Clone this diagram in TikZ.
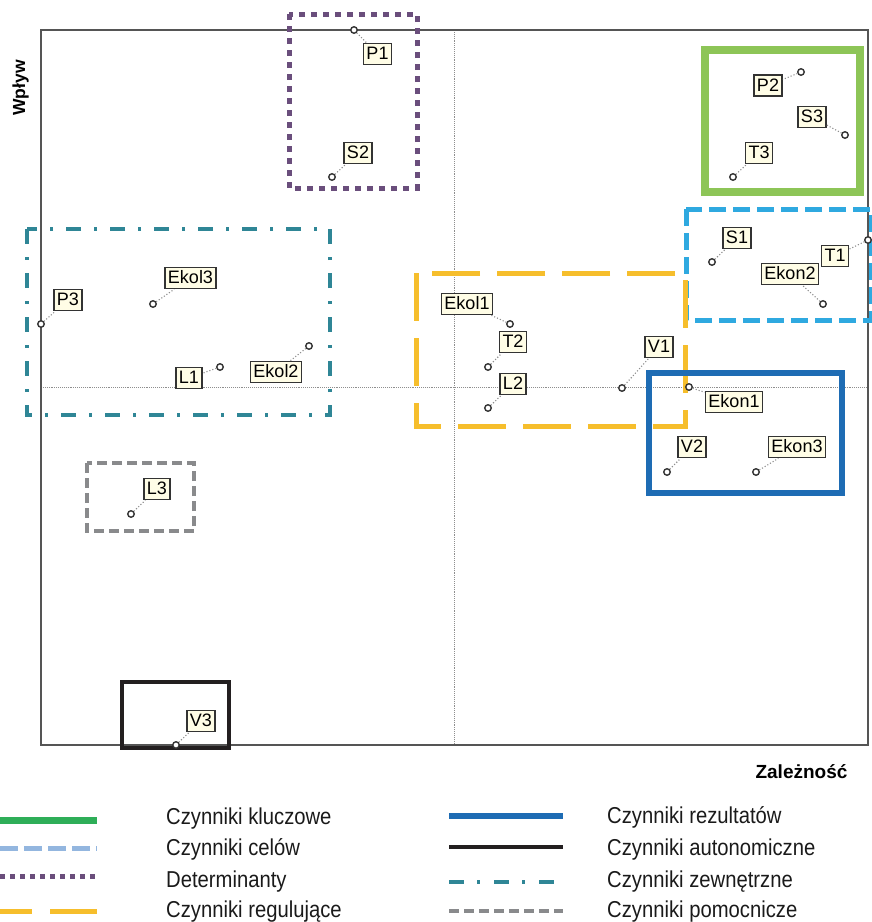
\documentclass[tikz,border=0pt]{standalone}
\usepackage{fontspec}
\setmainfont{Liberation Sans}
\newfontfamily\legendfont[FakeStretch=0.88]{Liberation Sans}

\definecolor{framegray}{HTML}{555555}
\definecolor{gridgray}{HTML}{8E8E8E}
\definecolor{tagline}{HTML}{333333}
\definecolor{tagfill}{HTML}{FFFDE6}
\definecolor{keygreen}{HTML}{8DC557}
\definecolor{keygreenL}{HTML}{2EAE58}
\definecolor{celblue}{HTML}{2FA9E0}
\definecolor{celblueL}{HTML}{93B6DF}
\definecolor{detpurple}{HTML}{6A4E7C}
\definecolor{regyellow}{HTML}{F6BE2C}
\definecolor{rezblue}{HTML}{1E6CB4}
\definecolor{autblack}{HTML}{231F20}
\definecolor{zewteal}{HTML}{2F8696}
\definecolor{pomgray}{HTML}{898A8C}
\definecolor{legtext}{HTML}{1A1A1A}

\begin{document}
\begin{tikzpicture}[x=1pt,y=-1pt,
	frame/.style={draw=framegray,line width=1.7pt},
	grid/.style={draw=gridgray,densely dotted,line width=0.9pt},
	pt/.style={circle,draw=tagline,fill=white,line width=1.4pt,minimum size=6.5pt,inner sep=0pt},
	tag/.style={draw=tagline,fill=tagfill,line width=1.7pt,font=\fontsize{18}{18}\selectfont,text height=13pt,text depth=2pt,inner xsep=3pt,inner ysep=3pt},
	leader/.style={draw=gridgray,dotted,line width=1.1pt},
	grpkey/.style={draw=keygreen,line width=7.5pt},
	grpcel/.style={draw=celblue,line width=5pt,dash pattern=on 17pt off 7pt},
	grpdet/.style={draw=detpurple,line width=5pt,dash pattern=on 6pt off 6pt},
	grpreg/.style={draw=regyellow,line width=5pt,dash pattern=on 48pt off 17pt},
	grprez/.style={draw=rezblue,line width=5.5pt},
	grpaut/.style={draw=autblack,line width=4.5pt},
	grpzew/.style={draw=zewteal,line width=4.5pt,dash pattern=on 15pt off 13pt on 3pt off 13pt},
	grppom/.style={draw=pomgray,line width=3.5pt,dash pattern=on 10pt off 5pt},
	keykey/.style={draw=keygreenL,line width=7pt},
	keycel/.style={draw=celblueL,line width=5pt,dash pattern=on 18pt off 6pt},
	keydet/.style={draw=detpurple,line width=5pt,dash pattern=on 5pt off 5pt},
	keyreg/.style={draw=regyellow,line width=5pt,dash pattern=on 47pt off 18pt,dash phase=15pt},
	keyrez/.style={draw=rezblue,line width=5.5pt},
	keyaut/.style={draw=autblack,line width=4pt},
	keyzew/.style={draw=zewteal,line width=4.5pt,dash pattern=on 15pt off 13pt on 3pt off 14pt},
	keypom/.style={draw=pomgray,line width=3.5pt,dash pattern=on 10pt off 5pt},
	keytext/.style={anchor=base west,inner sep=0pt,text=legtext,font=\legendfont\fontsize{23}{23}\selectfont}
	]
	\useasboundingbox (0,0) rectangle (872,922);
	
	%plot area
	\draw[grid] (454,30) -- (454,745);
	\draw[grid] (41,387) -- (868,387);
	\draw[frame] (41,30) rectangle (868,745);
	
	%axis titles
	\node[anchor=base,rotate=90,inner sep=0pt,font=\bfseries\fontsize{17.5}{17.5}\selectfont] (wplyw) at (25,88) {Wpływ};
	\node[anchor=base,inner sep=0pt,font=\bfseries\fontsize{19}{19}\selectfont] (zaleznosc) at (801.5,778) {Zależność};
	
	%groups
	\draw[grpdet] (289,14) rectangle (417,188);
	\draw[grpkey] (705,50) rectangle (860,192);
	\draw[grpcel] (686,209) rectangle (871,320);
	\draw[grpreg] (416,273) rectangle (685,426);
	\draw[grpzew] (27,229) rectangle (330,415);
	\draw[grprez] (649,373) rectangle (842,493);
	\draw[grppom] (87,463) rectangle (194,531);
	\draw[grpaut] (122,682) rectangle (229,748);
	
	%factors
	\foreach \n/\px/\py/\lx/\ly in {P1/354/30/377.5/54, S2/332/177/358/153, P3/41/324/68/300,
		Ekol3/153/304/190.5/278, L1/220/367/189/378, Ekol2/309/346/276/372,
		P2/801/72/768/85.5, S3/845/135/812/117, T3/733/177/759/153,
		S1/712/262/737/238, T1/868/240/835/256, Ekon2/823/304/790/274,
		Ekol1/510/324/467/304, T2/488/367/513/342, V1/622/388/659/347,
		L2/488/408/513/384, Ekon1/689/387/734/402, V2/667/472/692/447,
		Ekon3/756/472/797/447, L3/131/514/157/489, V3/176/745/201/721}{
		\node[tag] (t\n) at (\lx,\ly) {\n};
		\node[pt] (p\n) at (\px,\py) {};
		\draw[leader] (p\n) -- (t\n);
	}
	
	%legend
	\foreach \sty/\txt/\y/\b in {keykey/Czynniki kluczowe/820/824, keycel/Czynniki celów/848/855,
		keydet/Determinanty/876/887, keyreg/Czynniki regulujące/911/917}{
		\draw[\sty] (0,\y) -- (97,\y);
		\node[keytext] at (166,\b) {\txt};
	}
	\foreach \sty/\txt/\y/\b in {keyrez/Czynniki rezultatów/816/823, keyaut/Czynniki autonomiczne/847/855,
		keyzew/Czynniki zewnętrzne/882/887, keypom/Czynniki pomocnicze/911/917}{
		\draw[\sty] (449,\y) -- (563,\y);
		\node[keytext] at (607,\b) {\txt};
	}
\end{tikzpicture}
\end{document}
